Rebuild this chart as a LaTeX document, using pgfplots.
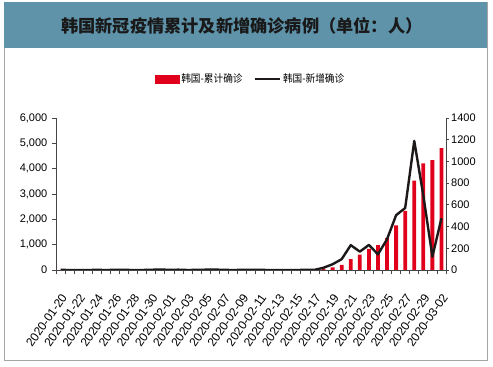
\documentclass[border=0pt]{standalone}
\usepackage{pgfplots}
\pgfplotsset{compat=1.18}
\usepackage{pgfplotstable}
\usepackage{fontspec}
\setmainfont{Liberation Sans}
\newfontfamily\cjk{Noto Sans CJK SC}
\newfontfamily\cjkleg{Noto Sans CJK SC}[FakeStretch=0.92]
\definecolor{barred}{RGB}{224,0,27}
\definecolor{titlebar}{RGB}{94,147,170}
\definecolor{framegray}{RGB}{165,165,165}
\definecolor{linecol}{RGB}{30,25,25}
\definecolor{axcol}{RGB}{70,70,70}

\pgfplotstableread{
x cum new
0 1 1
1 1 0
2 1 0
3 1 0
4 2 1
5 2 0
6 3 1
7 4 1
8 4 0
9 4 0
10 6 2
11 11 5
12 12 1
13 15 3
14 15 0
15 16 1
16 19 3
17 23 4
18 24 1
19 24 0
20 25 1
21 27 2
22 28 1
23 28 0
24 28 0
25 28 0
26 28 0
27 29 1
28 30 1
29 51 21
30 104 53
31 204 100
32 433 229
33 602 169
34 833 231
35 977 144
36 1261 284
37 1766 505
38 2337 571
39 3526 1189
40 4212 686
41 4335 123
42 4812 477
}\data

\begin{document}
\begin{tikzpicture}[x=1pt,y=1pt]
\fill[white] (0,0) rectangle (493,367);
\draw[framegray, line width=1pt] (4,6) rectangle (487,364);
\fill[titlebar] (4,319) rectangle (487,364.5);
\node[text=black!90] at (242,341.5) {\cjk\bfseries\fontsize{17.2}{19}\selectfont 韩国新冠疫情累计及新增确诊病例（单位：人）};

\pgfplotsset{
  common/.style={
    scale only axis, width=390pt, height=152pt,
    at={(56pt,97pt)}, anchor=south west,
    xmin=-0.5, xmax=42.5,
    tick align=outside,
    /pgf/number format/assume math mode=true,
    axis line style={axcol, line width=0.8pt},
    tick style={axcol, line width=0.8pt},
    major tick length=4.5pt,
    minor tick length=4.5pt,
    ticklabel style={font=\fontsize{11}{12}\selectfont, text=black},
  }
}

\begin{axis}[common,
  axis x line*=bottom, axis y line*=left,
  ymin=0, ymax=6000, ytick={0,1000,...,6000},
  yticklabel style={/pgf/number format/1000 sep={,}, inner sep=1pt, xshift=-3pt},
  xtick={0,2,...,42},
  xticklabels={2020-01-20,2020-01-22,2020-01-24,2020-01-26,2020-01-28,2020-01-30,2020-02-01,2020-02-03,2020-02-05,2020-02-07,2020-02-09,2020-02-11,2020-02-13,2020-02-15,2020-02-17,2020-02-19,2020-02-21,2020-02-23,2020-02-25,2020-02-27,2020-02-29,2020-03-02},
  minor xtick={-0.5,0.5,...,42.5},
  major x tick style={draw=none},
  xticklabel style={rotate=55, anchor=north east, inner sep=0pt, font=\fontsize{12}{13}\selectfont},
  xticklabel shift=18pt,
]
\addplot[ybar, bar width=3.8pt, bar shift=0pt, fill=barred, draw=none] table[x=x, y=cum] {\data};
\end{axis}

\begin{axis}[common,
  axis x line=none, axis y line*=right,
  ymin=0, ymax=1400, ytick={0,200,...,1400},
  yticklabel style={/pgf/number format/1000 sep={}, inner sep=1pt, xshift=1pt},
  major tick length=3pt,
  legend style={draw=none, fill=none, legend columns=2, at={(0.499,1.257)}, anchor=center,
    font=\cjkleg\fontsize{10.5}{12}\selectfont, inner sep=0pt,
    /tikz/every even column/.append style={column sep=9pt}},
]
\addlegendimage{legend image code/.code={\fill[barred] (0pt,-4pt) rectangle (24pt,4pt);}}
\addlegendentry{韩国-累计确诊}
\addplot[linecol, line width=2.4pt, line join=round, mark=none,
  legend image code/.code={\draw[linecol, line width=2.4pt] (0pt,0pt) -- (25pt,0pt);}]
  table[x=x, y=new] {\data};
\addlegendentry{韩国-新增确诊}
\end{axis}

\pgfresetboundingbox
\path (0,0) rectangle (493,367);
\end{tikzpicture}
\end{document}
